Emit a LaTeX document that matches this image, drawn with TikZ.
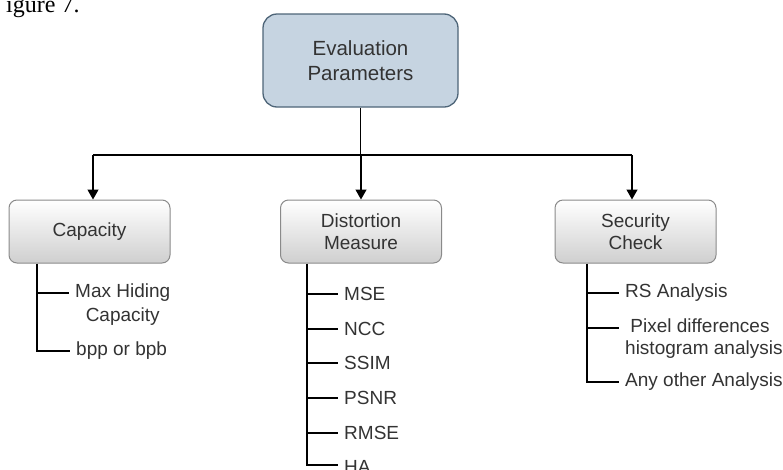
\documentclass[tikz,border=0pt]{standalone}
\usepackage{fontspec}
\setmainfont{Liberation Sans}
\newfontfamily\timesf{Liberation Serif}
\usetikzlibrary{arrows.meta}
\definecolor{topfill}{HTML}{C6D4E1}
\definecolor{topborder}{HTML}{4E6578}
\definecolor{catborder}{HTML}{8A8A8A}
\definecolor{catbottom}{HTML}{CFCFCF}
\definecolor{txt}{HTML}{333333}
\begin{document}
\begin{tikzpicture}[x=1pt,y=-1pt,
  font=\fontsize{19}{22}\selectfont,
  topbox/.style={draw=topborder, line width=1.3pt, rounded corners=14pt, fill=topfill,
    minimum width=195pt, minimum height=93pt, align=center, text=txt, inner sep=0pt,
    font=\fontsize{20.5}{25}\selectfont},
  catbox/.style={draw=catborder, line width=1pt, rounded corners=8pt, top color=white,
    bottom color=catbottom, minimum width=161pt, minimum height=63pt, align=center,
    text=txt, inner sep=0pt},
  leaf/.style={anchor=west, inner xsep=6pt, inner ysep=0pt, align=left, text=txt},
  link/.style={line width=1.3pt, black},
  arr/.style={link, -{Triangle[width=11pt,length=10pt]}}]
\useasboundingbox (0,0) rectangle (783,469);
\clip (0,0) rectangle (783,469);

\node[anchor=base west, inner sep=0pt, font=\timesf\fontsize{24}{24}\selectfont] (fig) at (6,12) {igure 7.};

\node[topbox] (top) at (360.5,60.5) {Evaluation\\Parameters};

\node[catbox] (cap) at (89.5,231.5) {Capacity};
\node[catbox] (dist) at (361,231.5) {Distortion\\Measure};
\node[catbox] (sec) at (635.5,231.5) {Security\\Check};

% top connectors
\coordinate (jm) at (360.5,155);
\coordinate (j1) at (93,155);
\coordinate (j2) at (361,155);
\coordinate (j3) at (632,155);
\draw[link] (top.south) -- (jm);
\draw[link] (j1) -- (j3);
\draw[arr] (j1) -- (j1 |- cap.north);
\draw[arr] (j2) -- (j2 |- dist.north);
\draw[arr] (j3) -- (j3 |- sec.north);

% Capacity leaves
\coordinate (ct) at (37,0);
\node[leaf, align=center, font=\fontsize{19}{24}\selectfont] (mh) at (69,305) {Max Hiding\\Capacity};
\node[leaf] (bpp) at (70,351) {bpp or bpb};
\coordinate (c1) at (37,293);
\draw[link] (cap.south -| ct) |- (bpp.west);
\draw[link] (c1) -- (c1 -| mh.west);

% Distortion leaves
\coordinate (dt) at (307,0);
\node[leaf] (mse) at (338,294) {MSE};
\node[leaf] (ncc) at (338,329) {NCC};
\node[leaf] (ssim) at (338,363) {SSIM};
\node[leaf] (psnr) at (338,398) {PSNR};
\node[leaf] (rmse) at (338,433) {RMSE};
\node[leaf] (ha) at (338,467) {HA};
\coordinate (d6) at (307,465);
\draw[link] (dist.south -| dt) -- (d6) -- (d6 -| ha.west);
\foreach \n in {mse,ncc,ssim,psnr,rmse}
  \draw[link] (dt |- \n.west) -- (\n.west);

% Security leaves
\coordinate (st) at (587,0);
\node[leaf] (rs) at (619,293) {RS Analysis};
\node[leaf] (pix) at (619,339) {\ Pixel differences\\histogram analysis};
\node[leaf] (any) at (619,382) {Any other Analysis};
\coordinate (s2) at (587,328);
\draw[link] (sec.south -| st) |- (any.west);
\draw[link] (st |- rs.west) -- (rs.west);
\draw[link] (s2) -- (s2 -| pix.west);
\end{tikzpicture}
\end{document}
